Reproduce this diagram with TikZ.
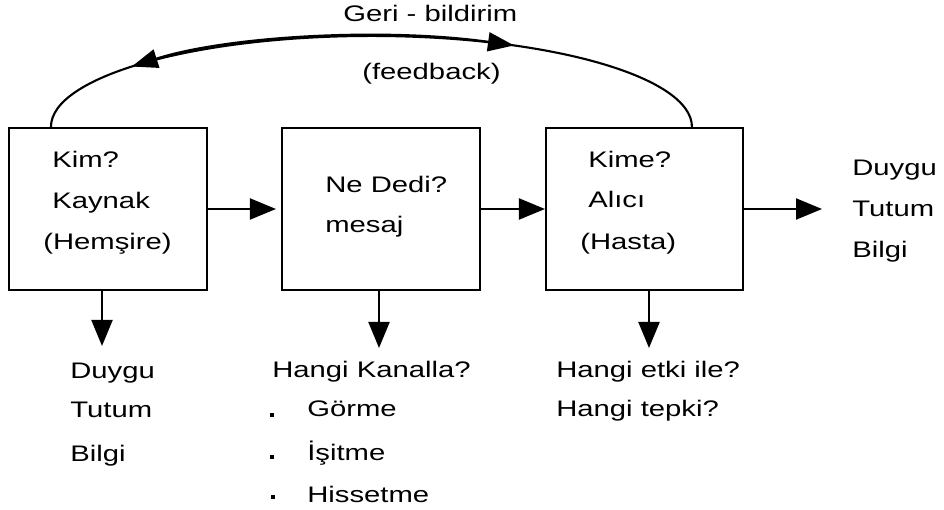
\documentclass[tikz,border=0pt]{standalone}
\usepackage{fontspec}
\setmainfont{Liberation Sans}[FakeStretch=1.3]
\usetikzlibrary{arrows.meta,calc}
\tikzset{
  kutu/.style={draw, line width=1.2pt, minimum width=3.96cm, minimum height=3.24cm, inner sep=0pt},
  yazi/.style={anchor=base west, inner sep=0pt, font=\fontsize{12.8}{15}\selectfont},
  ok/.style={line width=1.2pt, -{Triangle[length=0.52cm,width=0.42cm]}},
  cift/.style={line width=1.2pt, {Triangle[length=0.52cm,width=0.38cm]}-{Triangle[length=0.52cm,width=0.38cm]}},
}

\begin{document}
\begin{tikzpicture}
		%%%%% START %%%%%
		\useasboundingbox (0, 0) rectangle (18.88, -10.2);
		
		\node[kutu] (kaynak) at (2.16, -4.18) {};
		\node[kutu] (mesaj) at (7.62, -4.18) {};
		\node[kutu, minimum width=3.94cm] (alici) at (12.89, -4.18) {};
		
		% kutu yazilari
		\node[yazi] (kim) at (1.04, -3.36) {Kim?};
		\node[yazi] (kaynakY) at (1.04, -4.18) {Kaynak};
		\node[yazi] (hemsire) at (0.86, -5.0) {(Hemşire)};
		\node[yazi] (nededi) at (6.5, -3.86) {Ne Dedi?};
		\node[yazi] (mesajY) at (6.5, -4.66) {mesaj};
		\node[yazi] (kime) at (11.76, -3.36) {Kime?};
		\node[yazi] (aliciY) at (11.76, -4.16) {Alıcı};
		\node[yazi] (hasta) at (11.6, -5.0) {(Hasta)};
		
		% sag taraf
		\node[yazi] (duyguS) at (17.04, -3.52) {Duygu};
		\node[yazi] (tutumS) at (17.04, -4.34) {Tutum};
		\node[yazi] (bilgiS) at (17.04, -5.16) {Bilgi};
		
		% alt yazilar
		\node[yazi] (duyguA) at (1.4, -7.58) {Duygu};
		\node[yazi] (tutumA) at (1.4, -8.36) {Tutum};
		\node[yazi] (bilgiA) at (1.4, -9.22) {Bilgi};
		\node[yazi] (kanal) at (5.44, -7.56) {Hangi Kanalla?};
		\node[yazi] (gorme) at (6.14, -8.34) {Görme};
		\node[yazi] (isitme) at (6.14, -9.2) {İşitme};
		\node[yazi] (hisset) at (6.14, -10.04) {Hissetme};
		\node[yazi] (etki) at (11.12, -7.56) {Hangi etki ile?};
		\node[yazi] (tepki) at (11.12, -8.34) {Hangi tepki?};
		
		\fill (5.4, -8.26) rectangle ++(0.08, -0.08);
		\fill (5.4, -9.1) rectangle ++(0.08, -0.08);
		\fill (5.42, -9.9) rectangle ++(0.08, -0.08);
		
		% oklar
		\draw[ok, shorten >=0.1cm] (kaynak.east) -- (mesaj.west);
		\draw[ok] (mesaj.east) -- (alici.west);
		\coordinate (sag) at (16.44, -4.18);
		\draw[ok] (alici.east) -- (sag);
		
		\coordinate (alt1) at (2.04, -6.92);
		\coordinate (alt2) at (7.58, -6.96);
		\coordinate (alt3) at (12.98, -6.96);
		\draw[ok] (alt1 |- kaynak.south) -- (alt1);
		\draw[ok] (alt2 |- mesaj.south) -- (alt2);
		\draw[ok] (alt3 |- alici.south) -- (alt3);
		
		% geri bildirim
		\coordinate (fbA) at ($(kaynak.north west)+(0.86, 0)$);
		\coordinate (fbO) at ($(fbA)+(6.41, 0)$);
		\draw[line width=1.2pt] (fbA) arc[start angle=180, end angle=0, x radius=6.41, y radius=1.82];
		\draw[cift] (fbO) ++(138.4:6.41 and 1.82) arc[start angle=138.4, end angle=63.6, x radius=6.41, y radius=1.82];
		
		\node[yazi] (geri) at (6.86, -0.44) {Geri - bildirim};
		\node[yazi] (feedback) at (7.24, -1.6) {(feedback)};
		
		%%%%% END %%%%%
	\end{tikzpicture}
\end{document}
